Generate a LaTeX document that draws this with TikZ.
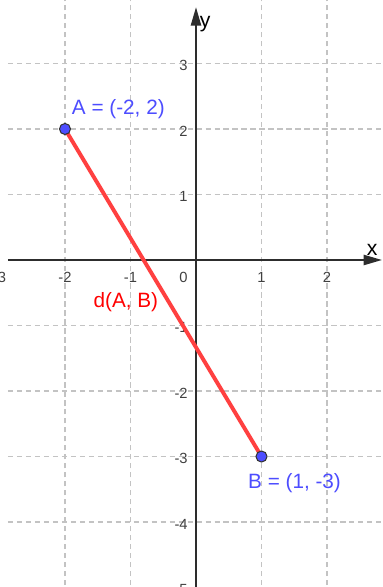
\documentclass[tikz,border=0pt]{standalone}
\usepackage{fontspec}
\setmainfont{Liberation Sans}
\usetikzlibrary{arrows.meta,positioning}
\definecolor{ptblue}{RGB}{77,77,255}
\definecolor{segred}{RGB}{255,64,64}
\definecolor{gridgray}{RGB}{195,195,195}
\definecolor{axisgray}{RGB}{45,45,45}

\begin{document}
\begin{tikzpicture}[
  gridline/.style={draw=gridgray, line width=0.5pt, dash pattern=on 2.3pt off 1.6pt},
  axis/.style={draw=axisgray, line width=0.9pt, -{Triangle[length=8pt,width=4.4pt]}},
  tick/.style={font=\fontsize{6.4}{7}\selectfont, text=black!75, inner sep=0pt},
  axlabel/.style={font=\fontsize{9.2}{10}\selectfont, inner sep=0pt},
  pt/.style={circle, draw=black!80, fill=ptblue, line width=0.45pt, minimum size=4.8pt, inner sep=0pt},
  ptlabel/.style={font=\fontsize{9}{10}\selectfont, text=ptblue, inner sep=0pt},
  seg/.style={draw=segred, line width=1.7pt},
]
  \useasboundingbox (-2.992,-4.992) rectangle (2.840,3.969);

  % grid
  \foreach \i in {-2,-1,1,2}
    \draw[gridline] (\i,-5.1) -- (\i,4.0);
  \foreach \j in {-4,-3,-2,-1,1,2,3}
    \draw[gridline] (-2.87,\j) -- (2.9,\j);

  % axes
  \coordinate (xstart) at (-2.87,0);
  \coordinate (xend) at (2.84,0);
  \coordinate (ystart) at (0,-5.1);
  \coordinate (yend) at (0,3.86);
  \draw[axis] (xstart) -- (xend);
  \draw[axis] (ystart) -- (yend);
  \node[axlabel] (xlab) at (2.69,0.16) {x};
  \node[axlabel] (ylab) at (0.14,3.6) {y};

  % tick labels
  \foreach \i in {-3,-2,-1,1,2}
    \node[tick] (xt\i) at (\i,-0.26) {\i};
  \node[tick] (xt0) at (-0.19,-0.26) {0};
  \foreach \j in {-5,-4,-3,-2,-1,1,2,3}
    \node[tick, anchor=east] (yt\j) at (-0.12,\j-0.03) {\j};

  % segment and points
  \coordinate (A) at (-2,2);
  \coordinate (B) at (1,-3);
  \draw[seg] (A) -- (B);
  \node[pt] (ptA) at (A) {};
  \node[pt] (ptB) at (B) {};
  \node[ptlabel, anchor=west] (labA) at ([shift={(0.1,0.31)}]A) {A = (-2, 2)};
  \node[ptlabel, anchor=west] (labB) at ([shift={(-0.21,-0.40)}]B) {B = (1, -3)};
  \node[ptlabel, text=red] (labd) at (-1.07,-0.64) {d(A, B)};
\end{tikzpicture}
\end{document}
